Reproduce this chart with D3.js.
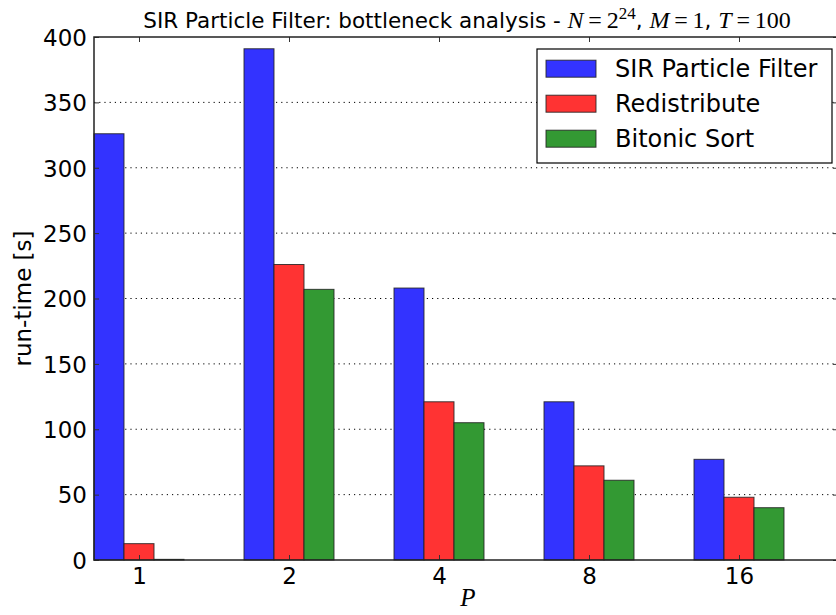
<!DOCTYPE html>
<meta charset="utf-8">
<head>
  <title>SIR Particle Filter: bottleneck analysis</title>
</head>
<style>
body {
  margin: 0;
  background: white;
}
svg {
  display: block;
}
text {
  font-family: "DejaVu Sans", sans-serif;
  fill: black;
}
.math {
  font-family: "Liberation Serif", "DejaVu Serif", serif;
}
.grid line {
  stroke: black;
  stroke-width: 1;
  stroke-dasharray: 1.2, 4;
}
</style>
<body>
<div id="chart"></div>
<script src="https://cdnjs.cloudflare.com/ajax/libs/d3/7.8.5/d3.min.js"></script>
<script>
// categories (P) and run-times [s]
var categories = ["1", "2", "4", "8", "16"];
var seriesNames = ["SIR Particle Filter", "Redistribute", "Bitonic Sort"];
var sirValues = [326, 391, 208, 121, 77];
var redistributeValues = [12.5, 226, 121, 72, 48];
var bitonicValues = [0.5, 207, 105, 61, 40];
var yTicks = [0, 50, 100, 150, 200, 250, 300, 350, 400];
var colours = ["#3333ff", "#ff3333", "#339933"];

var allSeries = [sirValues, redistributeValues, bitonicValues];

var width = 836, height = 615;
// plot box (note: "top" is reserved on window, so use plot* names)
var plotLeft = 94, plotRight = 838, plotTop = 37, plotBottom = 560;
var barW = 0.2;

var svg = d3.select("#chart").append("svg")
  .attr("width", width)
  .attr("height", height);

var x = d3.scaleLinear().domain([0, (plotRight - plotLeft) / 150]).range([plotLeft, plotRight]);
var y = d3.scaleLinear().domain([0, 400]).range([plotBottom, plotTop]);

// grid lines (dotted)
svg.append("g")
  .attr("class", "grid")
  .selectAll("line")
  .data(yTicks.filter(function(d) { return d > 0 && d < 400; }))
  .enter()
  .append("line")
  .attr("x1", plotLeft)
  .attr("x2", plotRight)
  .attr("y1", function(d) { return y(d); })
  .attr("y2", function(d) { return y(d); });

// bars
allSeries.forEach(function(values, j) {
  svg.append("g")
    .selectAll("rect")
    .data(values)
    .enter()
    .append("rect")
    .attr("x", function(d, i) { return x(i + j * barW); })
    .attr("width", function(d, i) { return x(i + (j + 1) * barW) - x(i + j * barW); })
    .attr("y", function(d) { return y(d); })
    .attr("height", function(d) { return y(0) - y(d); })
    .attr("fill", colours[j])
    .attr("stroke", "#222")
    .attr("stroke-opacity", 0.85)
    .attr("stroke-width", 1);
});

// axes
var tickPos = categories.map(function(c, i) { return i + 1.5 * barW; });

var yAxis = d3.axisLeft(y).tickValues(yTicks).tickSizeInner(-5).tickSizeOuter(0).tickPadding(7);
var gy = svg.append("g").attr("transform", "translate(" + plotLeft + ",0)").call(yAxis);
gy.selectAll("text").style("font-size", "23px").attr("dy", "0.36em");

var yAxisR = d3.axisRight(y).tickValues(yTicks).tickSizeInner(-5).tickSizeOuter(0).tickFormat("");
svg.append("g").attr("transform", "translate(" + plotRight + ",0)").call(yAxisR);

var xAxis = d3.axisBottom(x).tickValues(tickPos).tickSizeInner(-5).tickSizeOuter(0).tickPadding(8)
  .tickFormat(function(d, i) { return categories[i]; });
var gx = svg.append("g").attr("transform", "translate(0," + plotBottom + ")").call(xAxis);
gx.selectAll("text").style("font-size", "23px");

var xAxisT = d3.axisTop(x).tickValues(tickPos).tickSizeInner(-5).tickSizeOuter(0).tickFormat("");
svg.append("g").attr("transform", "translate(0," + plotTop + ")").call(xAxisT);

svg.selectAll(".domain").remove();
svg.selectAll(".tick line").attr("stroke", "#333");

// frame
svg.append("rect")
  .attr("x", plotLeft).attr("y", plotTop)
  .attr("width", plotRight - plotLeft).attr("height", plotBottom - plotTop)
  .attr("fill", "none")
  .attr("stroke", "#222")
  .attr("stroke-width", 1.5);

// title
var title = svg.append("text")
  .attr("x", (plotLeft + plotRight) / 2 + 1)
  .attr("y", 28)
  .attr("text-anchor", "middle")
  .style("font-size", "21.5px");
title.append("tspan").text("SIR Particle Filter: bottleneck analysis - ");
title.append("tspan").attr("class", "math").style("font-style", "italic").style("font-size", "24px").text("N");
title.append("tspan").attr("class", "math").style("font-size", "24px").text("\u2009=\u20092");
title.append("tspan").attr("class", "math").style("font-size", "17px").attr("dy", "-9").text("24");
title.append("tspan").attr("dy", "9").text(", ");
title.append("tspan").attr("class", "math").style("font-style", "italic").style("font-size", "24px").text("M");
title.append("tspan").attr("class", "math").style("font-size", "24px").text("\u2009=\u20091");
title.append("tspan").text(", ");
title.append("tspan").attr("class", "math").style("font-style", "italic").style("font-size", "24px").text("T");
title.append("tspan").attr("class", "math").style("font-size", "24px").text("\u2009=\u2009100");

// axis labels
svg.append("text")
  .attr("transform", "translate(31," + ((plotTop + plotBottom) / 2) + ") rotate(-90)")
  .attr("text-anchor", "middle")
  .style("font-size", "23px")
  .text("run-time [s]");

svg.append("text")
  .attr("class", "math")
  .attr("x", (plotLeft + plotRight) / 2 + 2)
  .attr("y", 606)
  .attr("text-anchor", "middle")
  .style("font-style", "italic")
  .style("font-size", "25px")
  .text("P");

// legend
var legend = svg.append("g");
legend.append("rect")
  .attr("x", 537).attr("y", 49)
  .attr("width", 295).attr("height", 114)
  .attr("fill", "white")
  .attr("stroke", "black")
  .attr("stroke-width", 1.2);

var rows = legend.selectAll("g.row")
  .data(seriesNames)
  .enter()
  .append("g")
  .attr("class", "row")
  .attr("transform", function(d, i) { return "translate(0," + (68.7 + i * 35) + ")"; });
rows.append("rect")
  .attr("x", 546).attr("y", -8.5)
  .attr("width", 50).attr("height", 17)
  .attr("fill", function(d, i) { return colours[i]; })
  .attr("stroke", "#222")
  .attr("stroke-opacity", 0.85);
rows.append("text")
  .attr("x", 615)
  .attr("y", 8.6)
  .style("font-size", "24px")
  .text(function(d) { return d; });
</script>
</body>
